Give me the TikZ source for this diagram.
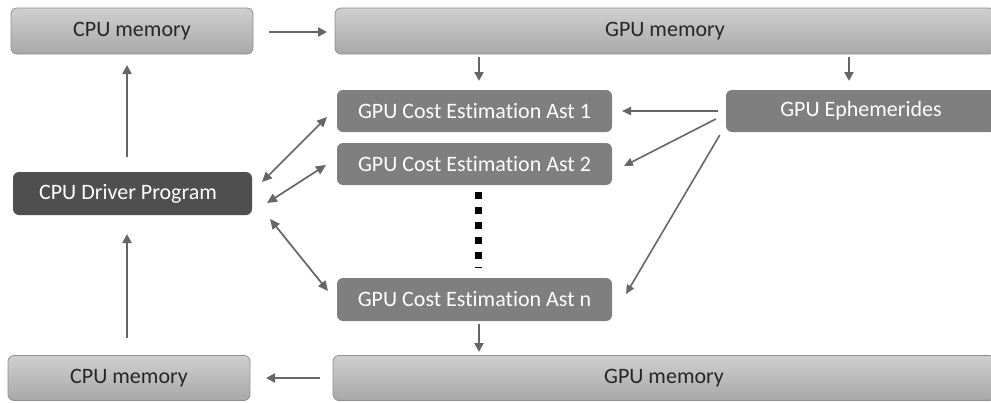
\documentclass[tikz,border=0pt]{standalone}
\usepackage{fontspec}
\setmainfont{Carlito}[Ligatures=NoCommon]
\usetikzlibrary{arrows.meta}
\definecolor{memtop}{HTML}{CFCFCF}
\definecolor{membot}{HTML}{A8A8A8}
\definecolor{memedge}{HTML}{8E8E8E}
\definecolor{gpubox}{HTML}{7F7F7F}
\definecolor{drvbox}{HTML}{4F4F4F}
\definecolor{arrowgray}{HTML}{666666}
\tikzset{
  boxfont/.style={font=\fontsize{22}{26}\selectfont},
  membox/.style={draw=memedge, line width=0.8pt, rounded corners=6pt,
    top color=memtop, bottom color=membot, text=black!85, inner sep=0pt, boxfont},
  kernbox/.style={fill=gpubox, rounded corners=6pt, text=white, inner sep=0pt, boxfont},
  driverbox/.style={fill=drvbox, rounded corners=6pt, text=white, inner sep=0pt, boxfont},
  bigarrow/.style={draw=arrowgray, line width=2.6pt,
    -{Triangle[length=9pt,width=9pt]}},
  thinarrow/.style={draw=arrowgray, line width=1.6pt,
    -{Triangle[length=9pt,width=8pt]}},
  twoway/.style={draw=arrowgray, line width=1.7pt,
    {Triangle[length=10pt,width=9pt]}-{Triangle[length=10pt,width=9pt]}},
}
\begin{document}
\begin{tikzpicture}[x=1pt,y=-1pt]
\useasboundingbox (0,0) rectangle (991,402);

% memory rows
\node[membox, minimum width=242pt, minimum height=46pt] (cpuTop) at (132,31) {CPU memory};
\node[membox, minimum width=660pt, minimum height=46pt] (gpuTop) at (665,31) {GPU memory};
\node[membox, minimum width=242pt, minimum height=45pt] (cpuBot) at (129,378) {CPU memory};
\node[membox, minimum width=662pt, minimum height=45pt] (gpuBot) at (664,378) {GPU memory};

% kernels
\node[kernbox, minimum width=275pt, minimum height=42pt] (ast1) at (474.5,111) {GPU Cost Estimation Ast 1};
\node[kernbox, minimum width=275pt, minimum height=42pt] (ast2) at (474.5,164) {GPU Cost Estimation Ast 2};
\node[kernbox, minimum width=275pt, minimum height=43pt] (astn) at (474.5,299.5) {GPU Cost Estimation Ast n};
\node[kernbox, minimum width=270pt, minimum height=42pt] (ephem) at (861,111) {GPU Ephemerides};

% host program
\node[driverbox, minimum width=239pt, minimum height=43pt] (driver) at (132.5,193.5) {\hspace*{-9pt}CPU Driver Program};

% ellipsis between kernels
\coordinate (dotsTop) at (478.5,192);
\coordinate (dotsBot) at (478.5,268);
\draw[black, line width=7pt, dash pattern=on 7pt off 8pt] (dotsTop) -- (dotsBot);

% transfers
\coordinate (h1) at (269,32);
\coordinate (h2) at (327,32);
\draw[bigarrow] (h1) -- (h2);
\coordinate (b1) at (320,378);
\coordinate (b2) at (266,378);
\draw[bigarrow] (b1) -- (b2);
\draw[bigarrow] (driver.north -| 127,0) ++(0,-15) -- (127,65);
\draw[bigarrow] (cpuBot.north -| 127,0) ++(0,-17) -- (127,234);
\draw[bigarrow] (gpuTop.south -| 479,0) ++(0,3) -- (479,81);
\draw[bigarrow] (gpuTop.south -| 849,0) ++(0,3) -- (849,81);
\draw[bigarrow] (astn.south -| 479,0) ++(0,3) -- (479,352);

% ephemerides feed every kernel
\draw[thinarrow] (ephem.west) ++(-8,0) -- (622,111);
\draw[thinarrow] (ephem.west) ++(-10,8) -- (624,166);
\draw[thinarrow] (ephem.west) ++(-6,24) -- (626,294);

% driver <-> kernels
\draw[twoway] (262,182) -- (327,117);
\draw[twoway] (267,203) -- (326,165);
\draw[twoway] (270,219) -- (328,291);
\end{tikzpicture}
\end{document}
